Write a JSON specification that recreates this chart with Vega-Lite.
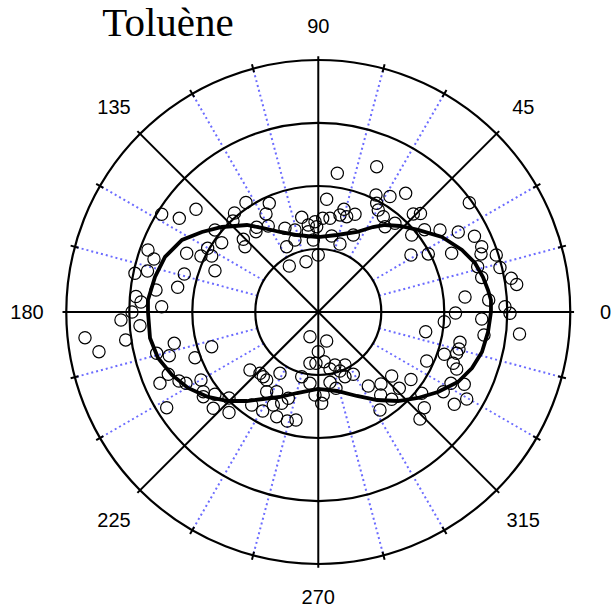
{
  "$schema": "https://vega.github.io/schema/vega-lite/v6.json",
  "width": 613,
  "height": 610,
  "autosize": {"type": "none"},
  "padding": 0,
  "background": "white",
  "config": {"view": {"stroke": null}},
  "datasets": {
    "dotted": [
      {"x": 0.966, "y": 0.259, "x2": 3.864, "y2": 1.035},
      {"x": 0.866, "y": 0.5, "x2": 3.464, "y2": 2},
      {"x": 0.5, "y": 0.866, "x2": 2, "y2": 3.464},
      {"x": 0.259, "y": 0.966, "x2": 1.035, "y2": 3.864},
      {"x": -0.259, "y": 0.966, "x2": -1.035, "y2": 3.864},
      {"x": -0.5, "y": 0.866, "x2": -2, "y2": 3.464},
      {"x": -0.866, "y": 0.5, "x2": -3.464, "y2": 2},
      {"x": -0.966, "y": 0.259, "x2": -3.864, "y2": 1.035},
      {"x": -0.966, "y": -0.259, "x2": -3.864, "y2": -1.035},
      {"x": -0.866, "y": -0.5, "x2": -3.464, "y2": -2},
      {"x": -0.5, "y": -0.866, "x2": -2, "y2": -3.464},
      {"x": -0.259, "y": -0.966, "x2": -1.035, "y2": -3.864},
      {"x": 0.259, "y": -0.966, "x2": 1.035, "y2": -3.864},
      {"x": 0.5, "y": -0.866, "x2": 2, "y2": -3.464},
      {"x": 0.866, "y": -0.5, "x2": 3.464, "y2": -2},
      {"x": 0.966, "y": -0.259, "x2": 3.864, "y2": -1.035}
    ],
    "solid": [
      {"x": -4.06, "y": 0, "x2": 4.06, "y2": 0},
      {"x": -2.871, "y": -2.871, "x2": 2.871, "y2": 2.871},
      {"x": 0, "y": -4.06, "x2": 0, "y2": 4.06},
      {"x": 2.871, "y": -2.871, "x2": -2.871, "y2": 2.871},
      {"x": 3.806, "y": 1.02, "x2": 3.931, "y2": 1.053},
      {"x": 3.412, "y": 1.97, "x2": 3.525, "y2": 2.035},
      {"x": 1.97, "y": 3.412, "x2": 2.035, "y2": 3.525},
      {"x": 1.02, "y": 3.806, "x2": 1.053, "y2": 3.931},
      {"x": -1.02, "y": 3.806, "x2": -1.053, "y2": 3.931},
      {"x": -1.97, "y": 3.412, "x2": -2.035, "y2": 3.525},
      {"x": -3.412, "y": 1.97, "x2": -3.525, "y2": 2.035},
      {"x": -3.806, "y": 1.02, "x2": -3.931, "y2": 1.053},
      {"x": -3.806, "y": -1.02, "x2": -3.931, "y2": -1.053},
      {"x": -3.412, "y": -1.97, "x2": -3.525, "y2": -2.035},
      {"x": -1.97, "y": -3.412, "x2": -2.035, "y2": -3.525},
      {"x": -1.02, "y": -3.806, "x2": -1.053, "y2": -3.931},
      {"x": 1.02, "y": -3.806, "x2": 1.053, "y2": -3.931},
      {"x": 1.97, "y": -3.412, "x2": 2.035, "y2": -3.525},
      {"x": 3.412, "y": -1.97, "x2": 3.525, "y2": -2.035},
      {"x": 3.806, "y": -1.02, "x2": 3.931, "y2": -1.053}
    ],
    "rings": [
      {"x": 0, "y": 0, "r": 1},
      {"x": 0, "y": 0, "r": 2},
      {"x": 0, "y": 0, "r": 3},
      {"x": 0, "y": 0, "r": 4}
    ],
    "curve": [
      {"i": 0, "x": 2.741, "y": 0},
      {"i": 1, "x": 2.741, "y": 0.19},
      {"i": 2, "x": 2.694, "y": 0.349},
      {"i": 3, "x": 2.614, "y": 0.556},
      {"i": 4, "x": 2.487, "y": 0.778},
      {"i": 5, "x": 2.281, "y": 0.984},
      {"i": 6, "x": 1.963, "y": 1.19},
      {"i": 7, "x": 1.582, "y": 1.302},
      {"i": 8, "x": 1.297, "y": 1.365},
      {"i": 9, "x": 1.059, "y": 1.381},
      {"i": 10, "x": 0.868, "y": 1.349},
      {"i": 11, "x": 0.614, "y": 1.27},
      {"i": 12, "x": 0.297, "y": 1.222},
      {"i": 13, "x": -0.005, "y": 1.19},
      {"i": 14, "x": -0.338, "y": 1.222},
      {"i": 15, "x": -0.608, "y": 1.27},
      {"i": 16, "x": -0.878, "y": 1.333},
      {"i": 17, "x": -1.132, "y": 1.381},
      {"i": 18, "x": -1.322, "y": 1.365},
      {"i": 19, "x": -1.529, "y": 1.349},
      {"i": 20, "x": -1.846, "y": 1.27},
      {"i": 21, "x": -2.163, "y": 1.143},
      {"i": 22, "x": -2.433, "y": 0.873},
      {"i": 23, "x": -2.592, "y": 0.556},
      {"i": 24, "x": -2.703, "y": 0.19},
      {"i": 25, "x": -2.703, "y": 0},
      {"i": 26, "x": -2.671, "y": -0.413},
      {"i": 27, "x": -2.544, "y": -0.73},
      {"i": 28, "x": -2.322, "y": -1.0},
      {"i": 29, "x": -2.068, "y": -1.206},
      {"i": 30, "x": -1.751, "y": -1.349},
      {"i": 31, "x": -1.433, "y": -1.413},
      {"i": 32, "x": -1.132, "y": -1.413},
      {"i": 33, "x": -0.878, "y": -1.381},
      {"i": 34, "x": -0.608, "y": -1.349},
      {"i": 35, "x": -0.338, "y": -1.286},
      {"i": 36, "x": -0.005, "y": -1.222},
      {"i": 37, "x": 0.297, "y": -1.254},
      {"i": 38, "x": 0.614, "y": -1.333},
      {"i": 39, "x": 0.932, "y": -1.397},
      {"i": 40, "x": 1.265, "y": -1.413},
      {"i": 41, "x": 1.582, "y": -1.365},
      {"i": 42, "x": 1.9, "y": -1.27},
      {"i": 43, "x": 2.217, "y": -1.111},
      {"i": 44, "x": 2.44, "y": -0.889},
      {"i": 45, "x": 2.598, "y": -0.635},
      {"i": 46, "x": 2.694, "y": -0.317},
      {"i": 47, "x": 2.741, "y": 0}
    ],
    "pts": [
      {"x": -2.486, "y": 1.551}, {"x": -2.206, "y": 1.487}, {"x": -1.941, "y": 1.63}, {"x": -1.33, "y": 1.571},
      {"x": -1.354, "y": 1.444}, {"x": -1.64, "y": 1.302}, {"x": -1.533, "y": 1.1}, {"x": -1.756, "y": 1.011},
      {"x": -2.089, "y": 0.932}, {"x": -1.862, "y": 0.889}, {"x": -1.692, "y": 0.889}, {"x": -2.703, "y": 0.984},
      {"x": -2.608, "y": 0.841}, {"x": -2.711, "y": 0.651}, {"x": -2.91, "y": 0.614}, {"x": -2.127, "y": 0.603},
      {"x": -1.64, "y": 0.656}, {"x": -2.232, "y": 0.392}, {"x": -2.576, "y": 0.349}, {"x": -2.894, "y": 0.246},
      {"x": -2.814, "y": 0.159}, {"x": 0.302, "y": 2.202}, {"x": 0.927, "y": 2.306}, {"x": 0.133, "y": 1.789},
      {"x": -1.148, "y": 1.738}, {"x": -0.778, "y": 1.725}, {"x": -0.83, "y": 1.556}, {"x": -0.978, "y": 1.344},
      {"x": -0.794, "y": 1.365}, {"x": -0.989, "y": 1.275}, {"x": -0.529, "y": 1.329}, {"x": -0.263, "y": 1.503},
      {"x": -0.159, "y": 1.381}, {"x": -0.052, "y": 1.433}, {"x": -0.025, "y": 1.354}, {"x": -0.37, "y": 1.302},
      {"x": -0.159, "y": 1.275}, {"x": 0.07, "y": 1.487}, {"x": 0.186, "y": 1.487}, {"x": 0.344, "y": 1.54},
      {"x": 0.408, "y": 1.63}, {"x": 0.451, "y": 1.513}, {"x": 0.583, "y": 1.551}, {"x": 0.916, "y": 1.857},
      {"x": 0.927, "y": 1.725}, {"x": 0.952, "y": 1.619}, {"x": 1.032, "y": 1.513}, {"x": 1.138, "y": 1.833},
      {"x": 1.059, "y": 1.354}, {"x": 0.556, "y": 1.222}, {"x": 0.213, "y": 1.206}, {"x": 0.344, "y": 1.079},
      {"x": -1.19, "y": 1.154}, {"x": -1.163, "y": 1.037}, {"x": -0.502, "y": 1.037}, {"x": -0.37, "y": 1.143},
      {"x": -0.079, "y": 1.143}, {"x": -0.195, "y": 0.798}, {"x": 0, "y": 0.905}, {"x": -0.46, "y": 0.73},
      {"x": 1.387, "y": 1.884}, {"x": 2.397, "y": 1.735}, {"x": 1.508, "y": 1.556}, {"x": 1.622, "y": 1.563},
      {"x": 1.217, "y": 1.408}, {"x": 1.932, "y": 1.302}, {"x": 2.222, "y": 1.27}, {"x": 1.686, "y": 1.306},
      {"x": 1.483, "y": 1.222}, {"x": 2.479, "y": 1.202}, {"x": 2.594, "y": 1.037}, {"x": 2.583, "y": 0.921},
      {"x": 1.471, "y": 0.905}, {"x": 1.746, "y": 0.921}, {"x": 2.117, "y": 0.932}, {"x": 2.825, "y": 0.905},
      {"x": 2.884, "y": 0.706}, {"x": 2.53, "y": 0.719}, {"x": 2.594, "y": 0.548}, {"x": 3.063, "y": 0.535},
      {"x": 3.149, "y": 0.437}, {"x": 2.329, "y": 0.238}, {"x": 2.705, "y": 0.19}, {"x": 2.963, "y": 0.084},
      {"x": 3.043, "y": -0.021}, {"x": 2.178, "y": -0.016}, {"x": 2.0, "y": -0.154}, {"x": 2.594, "y": -0.111},
      {"x": 3.194, "y": -0.349}, {"x": 2.63, "y": -0.365}, {"x": 1.705, "y": -0.313}, {"x": 2.249, "y": -0.481},
      {"x": 2.233, "y": -0.587}, {"x": 2.197, "y": -0.656}, {"x": 2.0, "y": -0.671}, {"x": 2.143, "y": -0.814},
      {"x": 1.721, "y": -0.778}, {"x": 2.197, "y": -0.905}, {"x": 1.165, "y": -1.016}, {"x": 1.471, "y": -1.071},
      {"x": 2.317, "y": -1.148}, {"x": 2.106, "y": -1.132}, {"x": 1.286, "y": -1.211}, {"x": 1.984, "y": -1.265},
      {"x": 2.356, "y": -1.381}, {"x": 1.641, "y": -1.29}, {"x": 1.165, "y": -1.386}, {"x": 2.159, "y": -1.465},
      {"x": 1.683, "y": -1.519}, {"x": 1.614, "y": -1.698}, {"x": -2.486, "y": 0.084}, {"x": -2.957, "y": 0},
      {"x": -3.132, "y": -0.127}, {"x": -2.83, "y": -0.217}, {"x": -3.703, "y": -0.408}, {"x": -3.057, "y": -0.444},
      {"x": -3.481, "y": -0.63}, {"x": -2.286, "y": -0.497}, {"x": -1.692, "y": -0.551}, {"x": -2.565, "y": -0.656},
      {"x": -2.365, "y": -0.694}, {"x": -1.957, "y": -0.725}, {"x": -2.381, "y": -0.989}, {"x": -2.513, "y": -1.132},
      {"x": -2.211, "y": -1.095}, {"x": -2.1, "y": -1.132}, {"x": -1.862, "y": -1.079}, {"x": -1.825, "y": -1.265},
      {"x": -1.825, "y": -1.344}, {"x": -1.64, "y": -1.306}, {"x": -2.406, "y": -1.519}, {"x": -1.667, "y": -1.529},
      {"x": -1.417, "y": -1.365}, {"x": -1.417, "y": -1.595}, {"x": -0.132, "y": -0.392}, {"x": 0.133, "y": -0.46},
      {"x": 0, "y": -0.63}, {"x": -0.132, "y": -0.814}, {"x": -0.037, "y": -0.814}, {"x": 0.095, "y": -0.789},
      {"x": 0.265, "y": -0.841}, {"x": 0.186, "y": -0.905}, {"x": 0.424, "y": -0.841}, {"x": 0.344, "y": -0.937},
      {"x": 0.556, "y": -0.989}, {"x": 0.424, "y": -1.027}, {"x": -1.084, "y": -0.921}, {"x": -0.925, "y": -0.973},
      {"x": -0.873, "y": -1.027}, {"x": -0.819, "y": -1.079}, {"x": -0.608, "y": -0.973}, {"x": -0.263, "y": -1.027},
      {"x": -0.132, "y": -1.132}, {"x": 0.186, "y": -1.116}, {"x": 0.281, "y": -1.211}, {"x": -0.819, "y": -1.265},
      {"x": -0.66, "y": -1.265}, {"x": -0.052, "y": -1.317}, {"x": 0.079, "y": -1.317}, {"x": 0.054, "y": -1.449},
      {"x": -0.476, "y": -1.37}, {"x": -1.057, "y": -1.476}, {"x": -0.714, "y": -1.476}, {"x": -0.581, "y": -1.449},
      {"x": -0.883, "y": -1.571}, {"x": -0.66, "y": -1.662}, {"x": -0.492, "y": -1.73}, {"x": -0.354, "y": -1.714},
      {"x": 0.794, "y": -1.175}, {"x": 0.995, "y": -1.143}, {"x": 0.99, "y": -1.317}, {"x": 0.979, "y": -1.556}
    ],
    "labels": [
      {"x": 4.56, "y": -0.016, "t": "0"},
      {"x": 3.254, "y": 3.233, "t": "45"},
      {"x": 0, "y": 4.524, "t": "90"},
      {"x": -3.243, "y": 3.233, "t": "135"},
      {"x": -4.624, "y": -0.016, "t": "180"},
      {"x": -3.243, "y": -3.317, "t": "225"},
      {"x": 0, "y": -4.54, "t": "270"},
      {"x": 3.254, "y": -3.317, "t": "315"}
    ],
    "title": [
      {"x": -2.386, "y": 4.381, "t": "Toluène"}
    ]
  },
  "encoding": {
    "x": {"field": "x", "type": "quantitative", "axis": null, "scale": {"domain": [-5.052, 4.678], "nice": false, "zero": false}},
    "y": {"field": "y", "type": "quantitative", "axis": null, "scale": {"domain": [-4.73, 4.952], "nice": false, "zero": false}}
  },
  "layer": [
    {
      "data": {"name": "dotted"},
      "mark": {"type": "rule", "color": "#6b6bff", "strokeWidth": 2, "strokeDash": [2, 3]},
      "encoding": {"x2": {"field": "x2"}, "y2": {"field": "y2"}}
    },
    {
      "data": {"name": "solid"},
      "mark": {"type": "rule", "color": "black", "strokeWidth": 2},
      "encoding": {"x2": {"field": "x2"}, "y2": {"field": "y2"}}
    },
    {
      "data": {"name": "rings"},
      "mark": {"type": "point", "shape": "circle", "filled": false, "stroke": "black", "strokeWidth": 2.2, "opacity": 1},
      "encoding": {
        "size": {"field": "r", "type": "quantitative", "legend": null, "scale": {"type": "pow", "exponent": 2, "domain": [0, 4], "range": [0, 254016]}}
      }
    },
    {
      "data": {"name": "curve"},
      "mark": {"type": "line", "color": "black", "strokeWidth": 3.8, "interpolate": "linear"},
      "encoding": {"order": {"field": "i", "type": "quantitative"}}
    },
    {
      "data": {"name": "pts"},
      "mark": {"type": "point", "shape": "circle", "filled": false, "stroke": "black", "strokeWidth": 1.2, "size": 150, "opacity": 1}
    },
    {
      "data": {"name": "labels"},
      "mark": {"type": "text", "font": "Liberation Sans", "fontSize": 20, "align": "center", "baseline": "middle", "color": "black"},
      "encoding": {"text": {"field": "t"}}
    },
    {
      "data": {"name": "title"},
      "mark": {"type": "text", "font": "Liberation Serif", "fontSize": 41, "align": "center", "baseline": "alphabetic", "color": "black"},
      "encoding": {"text": {"field": "t"}}
    }
  ]
}
